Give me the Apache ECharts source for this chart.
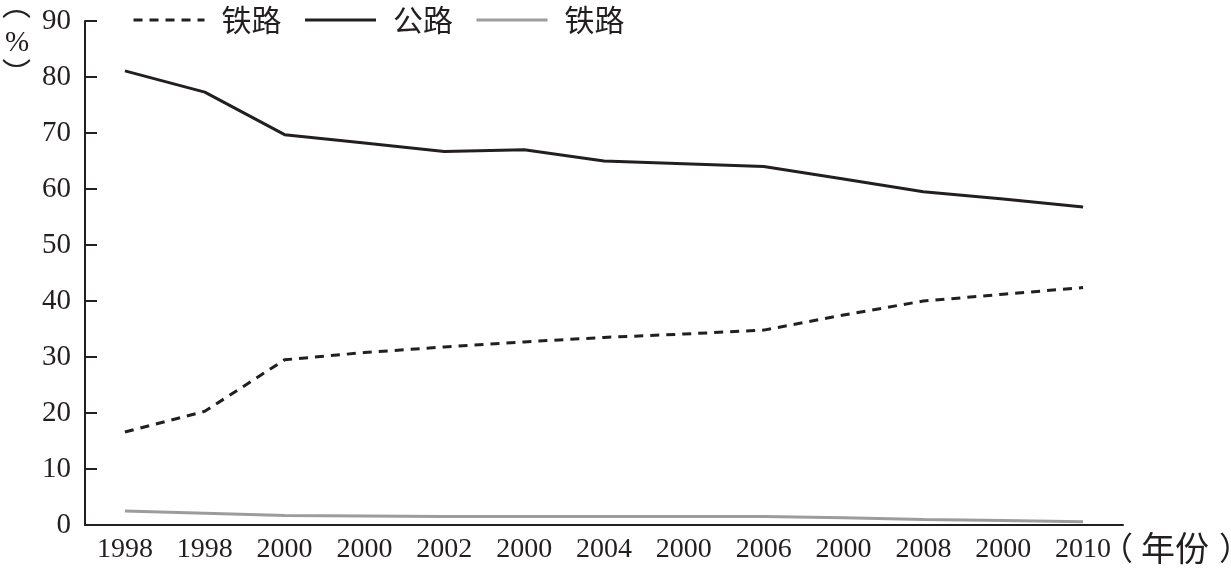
<!DOCTYPE html>
<html>
<head>
<meta charset="utf-8">
<script src="https://cdn.jsdelivr.net/npm/echarts@6/dist/echarts.min.js"></script>
<style>
html,body{margin:0;padding:0;background:#fff;}
#chart{width:1231px;height:574px;}
</style>
</head>
<body>
<div id="chart"></div>
<script>
var categories = ['1998','1998','2000','2000','2002','2000','2004','2000','2006','2000','2008','2000','2010'];
var yTicks = [0,10,20,30,40,50,60,70,80,90];
var seriesNames = ['铁路','公路','铁路'];
var railDashed = [16.6,20.3,29.5,30.8,31.8,32.7,33.5,34.1,34.8,37.5,40.0,41.2,42.4];
var road = [81.1,77.3,69.7,68.2,66.7,67.0,65.0,64.5,64.0,61.8,59.5,58.2,56.8];
var railGray = [2.5,2.1,1.7,1.6,1.5,1.5,1.5,1.5,1.5,1.3,1.0,0.8,0.6];

var ink = '#231f20';
var numFont = '"Liberation Serif","Noto Sans CJK SC",serif';
var cjkFont = '"Noto Sans CJK SC","Liberation Serif",serif';

var chart = echarts.init(document.getElementById('chart'));
chart.setOption({
  animation: false,
  backgroundColor: '#fff',
  grid: {left: 85, right: 108, top: 21, bottom: 49, containLabel: false},
  legend: {
    left: 127, top: 0,
    itemWidth: 71, itemHeight: 14, itemGap: 22,
    itemStyle: {opacity: 0},
    lineStyle: {width: 3},
    textStyle: {fontSize: 30, color: ink, fontFamily: cjkFont, padding: [0,0,0,12]},
    data: [{name: 'rail1'}, {name: 'road'}, {name: 'rail2'}],
    formatter: function (n) { return n === 'road' ? seriesNames[1] : (n === 'rail1' ? seriesNames[0] : seriesNames[2]); }
  },
  xAxis: {
    type: 'category',
    data: categories,
    boundaryGap: true,
    axisLine: {lineStyle: {color: ink, width: 2}},
    axisTick: {inside: true, length: 11, lineStyle: {color: ink, width: 2}},
    axisLabel: {margin: 11, fontSize: 28, color: ink, fontFamily: numFont, interval: 0}
  },
  yAxis: {
    type: 'value',
    min: yTicks[0], max: yTicks[yTicks.length-1], interval: 10,
    splitLine: {show: false},
    axisLine: {show: true, lineStyle: {color: ink, width: 2}},
    axisTick: {show: true, inside: true, length: 12, lineStyle: {color: ink, width: 2}},
    axisLabel: {margin: 14, fontSize: 29, color: ink, fontFamily: numFont}
  },
  graphic: [
    {type: 'text', x: 16.5, y: 5,
     style: {text: '︵', fontSize: 29, fill: ink, fontFamily: cjkFont, align: 'center', verticalAlign: 'middle'}},
    {type: 'text', x: 17, y: 43,
     style: {text: '%', fontSize: 29, fill: ink, fontFamily: numFont, align: 'center', verticalAlign: 'middle'}},
    {type: 'text', x: 16.5, y: 73,
     style: {text: '︶', fontSize: 29, fill: ink, fontFamily: cjkFont, align: 'center', verticalAlign: 'middle'}},
    {type: 'text', x: 1101, y: 548, style: {text: '（', fontSize: 32, fill: ink, fontFamily: cjkFont, verticalAlign: 'middle'}},
    {type: 'text', x: 1141, y: 548, style: {text: '年份', fontSize: 34, fill: ink, fontFamily: cjkFont, verticalAlign: 'middle'}},
    {type: 'text', x: 1219, y: 548, style: {text: '）', fontSize: 32, fill: ink, fontFamily: cjkFont, verticalAlign: 'middle'}}
  ],
  series: [
    {name: 'rail1', type: 'line', data: railDashed, symbol: 'none',
     lineStyle: {color: ink, width: 3, type: [9, 7]}, itemStyle: {color: ink}},
    {name: 'road', type: 'line', data: road, symbol: 'none',
     lineStyle: {color: ink, width: 3}, itemStyle: {color: ink}},
    {name: 'rail2', type: 'line', data: railGray, symbol: 'none',
     lineStyle: {color: '#9c9c9c', width: 3}, itemStyle: {color: '#9c9c9c'}}
  ]
});
</script>
</body>
</html>
